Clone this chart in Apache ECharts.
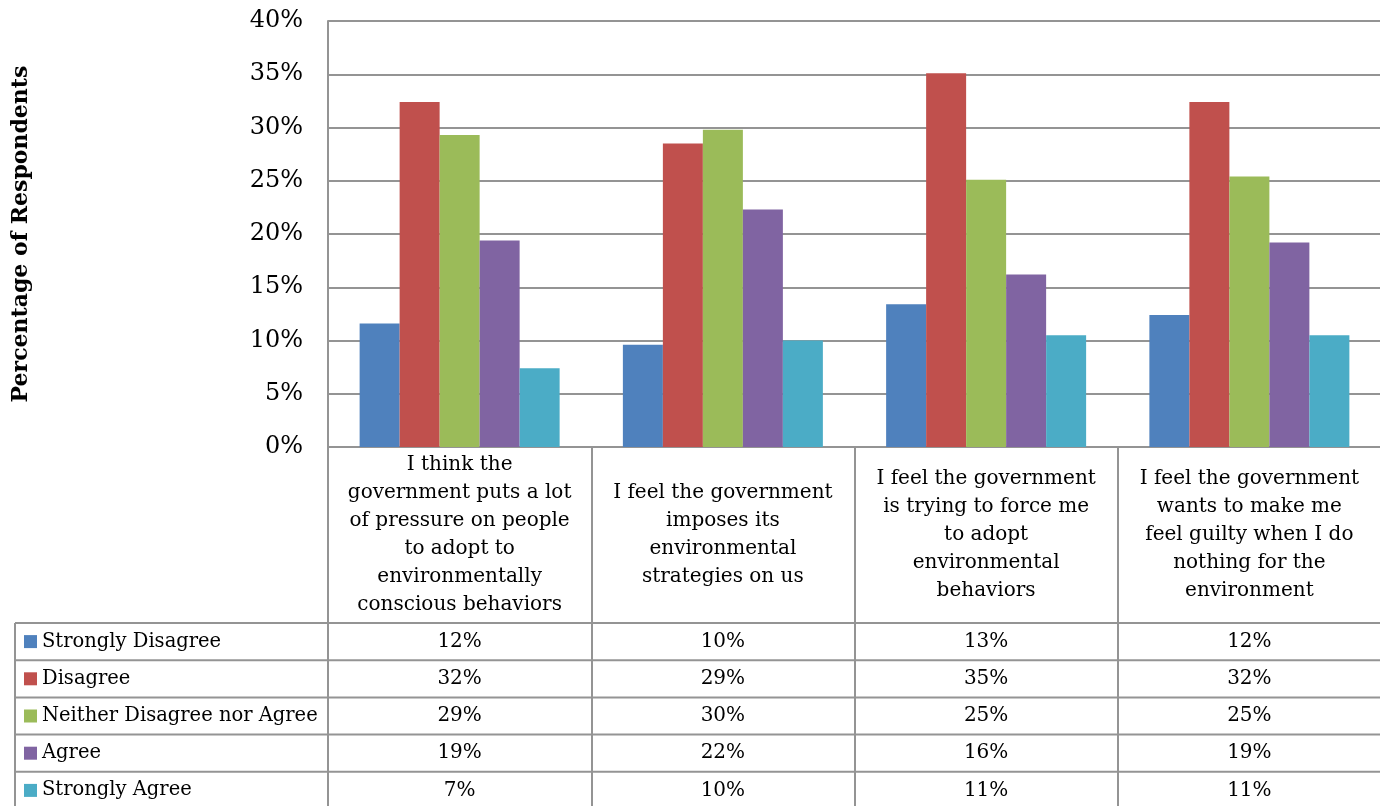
<!DOCTYPE html>
<html>
<head>
<meta charset="utf-8">
<title>Perceived government pressure on environmental behaviour</title>
<script src="https://cdn.jsdelivr.net/npm/echarts@6/dist/echarts.min.js"></script>
<style>
  html, body { margin: 0; padding: 0; background: #ffffff; }
  #chart { width: 1380px; height: 806px; }
</style>
</head>
<body>
<div id="chart"></div>
<script>
// Survey statements (line breaks as set in the table header)
const categories = [
  'I think the\ngovernment puts a lot\nof pressure on people\nto adopt to\nenvironmentally\nconscious behaviors',
  'I feel the government\nimposes its\nenvironmental\nstrategies on us',
  'I feel the government\nis trying to force me\nto adopt\nenvironmental\nbehaviors',
  'I feel the government\nwants to make me\nfeel guilty when I do\nnothing for the\nenvironment'
];

// Response options, in legend / table order
const seriesNames = ['Strongly Disagree', 'Disagree', 'Neither Disagree nor Agree', 'Agree', 'Strongly Agree'];

// Share of respondents (%) per statement
const stronglyDisagree = [11.6, 9.6, 13.4, 12.4];
const disagree         = [32.4, 28.5, 35.1, 32.4];
const neither          = [29.3, 29.8, 25.1, 25.4];
const agree            = [19.4, 22.3, 16.2, 19.2];
const stronglyAgree    = [7.4, 10.0, 10.5, 10.5];

// Value axis ticks (%)
const yMin = 0, yMax = 40, yStep = 5;

const seriesValues = [stronglyDisagree, disagree, neither, agree, stronglyAgree];
const colors = ['#4F81BD', '#C0504D', '#9BBB59', '#8064A2', '#4BACC6'];

const FONT = 'DejaVu Serif';
const LINE = '#949494';
const W = 1380, H = 806;
const gridLeft = 328, gridTop = 21, gridBottom = 359;
const headerRowH = 176;   // statement row under the axis
const rowH = 37.2;        // data table rows
const tableLeft = 15;

const chart = echarts.init(document.getElementById('chart'), null, { renderer: 'canvas' });

// Data table rows are extra category axes stacked under the main one
const tableAxes = seriesNames.map((name, i) => ({
  type: 'category',
  gridIndex: 0,
  position: 'bottom',
  offset: headerRowH + rowH * i + rowH / 2,
  data: seriesValues[i].map(v => Math.round(v) + '%'),
  axisLine: { show: false, onZero: false },
  axisTick: { show: false },
  splitLine: { show: false },
  axisLabel: {
    interval: 0, margin: 0, verticalAlign: 'middle',
    fontFamily: FONT, fontSize: 20, color: '#000'
  },
  name: '{sq|}{t|' + name + '}',
  nameLocation: 'start',
  nameGap: gridLeft - 24,
  nameTextStyle: {
    align: 'left', verticalAlign: 'middle',
    rich: {
      sq: { width: 13, height: 13, backgroundColor: colors[i] },
      t: { fontFamily: FONT, fontSize: 19.5, color: '#000', padding: [0, 0, 0, 5] }
    }
  }
}));

// Horizontal rules of the data table and its left border
const tableTop = H - gridBottom + headerRowH;
const tableLines = [];
for (let i = 0; i < seriesNames.length; i++) {
  const y = tableTop + rowH * i;
  tableLines.push({
    type: 'line', silent: true,
    shape: { x1: tableLeft, y1: y, x2: W, y2: y },
    style: { stroke: LINE, lineWidth: 2 }
  });
}
tableLines.push({
  type: 'line', silent: true,
  shape: { x1: tableLeft, y1: tableTop, x2: tableLeft, y2: H },
  style: { stroke: LINE, lineWidth: 2 }
});

const option = {
  backgroundColor: '#ffffff',
  animation: false,
  color: colors,
  grid: {
    left: gridLeft, right: -1, top: gridTop, bottom: gridBottom,
    containLabel: false, outerBoundsMode: 'none'
  },
  xAxis: [
    {
      type: 'category',
      data: categories,
      axisLine: { show: true, onZero: false, lineStyle: { color: LINE, width: 2 } },
      axisTick: { show: true, interval: 0, length: gridBottom, lineStyle: { color: LINE, width: 2 } },
      splitLine: { show: false },
      axisLabel: {
        interval: 0, margin: headerRowH / 2, verticalAlign: 'middle',
        fontFamily: FONT, fontSize: 20, lineHeight: 28, color: '#000', align: 'center'
      }
    }
  ].concat(tableAxes),
  yAxis: {
    type: 'value',
    min: yMin, max: yMax, interval: yStep,
    name: 'Percentage of Respondents',
    nameLocation: 'middle',
    nameGap: gridLeft - 32,
    nameRotate: 90,
    nameTextStyle: { fontFamily: FONT, fontSize: 22, fontWeight: 'bold', color: '#000' },
    axisLine: { show: true, lineStyle: { color: LINE, width: 2 } },
    axisTick: { show: false },
    splitLine: { show: true, lineStyle: { color: LINE, width: 2 } },
    axisLabel: {
      margin: 25, formatter: '{value}%',
      fontFamily: FONT, fontSize: 24, color: '#000'
    }
  },
  graphic: tableLines,
  series: seriesNames.map((name, i) => ({
    name: name,
    type: 'bar',
    xAxisIndex: 0,
    barWidth: 40,
    barGap: '0%',
    data: seriesValues[i],
    itemStyle: { color: colors[i] }
  }))
};

chart.setOption(option);
</script>
</body>
</html>
